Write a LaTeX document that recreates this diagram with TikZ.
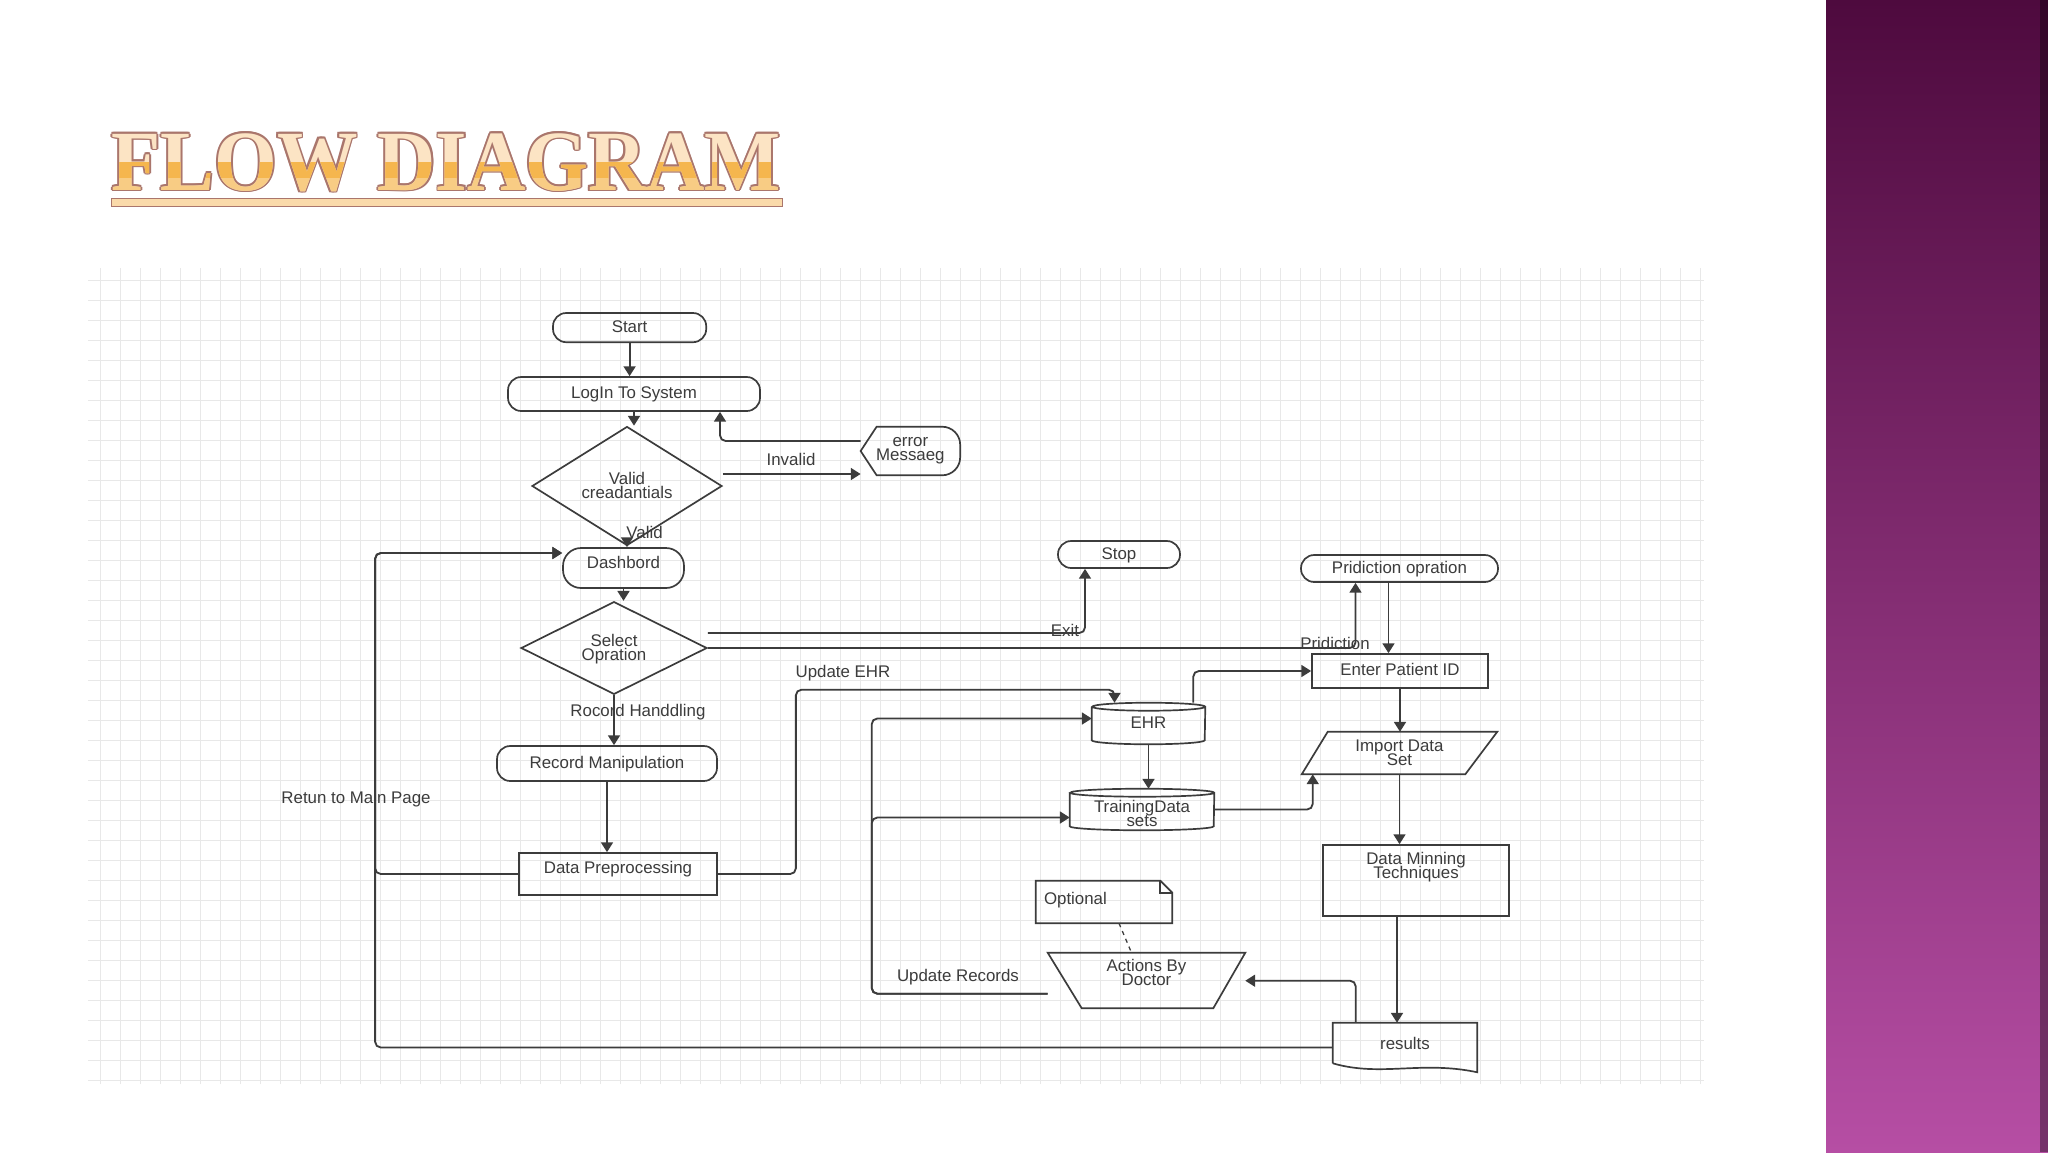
\documentclass[tikz,border=0pt]{standalone}
\usepackage{fontspec}
\setmainfont{Liberation Sans}
\newfontfamily\titlefont{Liberation Serif}
\usepackage{tikz}
\usetikzlibrary{shapes.geometric,calc,arrows.meta}

\definecolor{ink}{RGB}{60,60,60}
\definecolor{gridline}{RGB}{232,232,232}
\definecolor{plumtop}{RGB}{78,10,62}
\definecolor{plummid}{RGB}{132,50,112}
\definecolor{plumbot}{RGB}{182,78,164}
\definecolor{peach}{RGB}{252,228,196}
\definecolor{amber}{RGB}{245,182,78}
\definecolor{amberlt}{RGB}{248,204,132}
\definecolor{rim}{RGB}{170,118,108}

\newcommand{\diagfont}{\fontsize{12}{10}\selectfont\lineskiplimit=-20pt\relax}
\newcommand{\twol}[2]{\vtop{\halign{\hfil##\hfil\cr#1\cr#2\cr}}}

\tikzset{
  txt/.style={font=\diagfont, text=ink, inner sep=0pt},
  bare/.style={txt, text height=0.3cm, text depth=0.075cm},
  box/.style={bare, draw=ink, line width=1.2pt},
  pill/.style={box, rounded corners=0.33cm},
  choice/.style={box, diamond, text depth=0.4cm},
  lbl/.style={bare},
  outline/.style={draw=ink, line width=1.2pt},
  arr/.style={->, draw=ink, line width=1.3pt, rounded corners=4pt},
  ttl/.style={inner sep=0pt, anchor=base west, font=\titlefont\bfseries\fontsize{61}{61}\selectfont}
}

\begin{document}
\begin{tikzpicture}[>={Triangle[length=7pt,width=8.5pt]}]
  % page, grid paper and side band
  \fill[white] (0,0) rectangle (51.2,-28.8);
  \useasboundingbox (0,0) rectangle (51.2,-28.8);
  \draw[gridline, line width=0.5pt, step=0.5cm] (2.2,-6.7) grid (42.6,-27.1);
  \shade[top color=plumtop, middle color=plummid, bottom color=plumbot] (45.65,0) rectangle (51.2,-28.8);
  \fill[black, opacity=0.35] (51.0,0) rectangle (51.2,-28.8);

  % title
  \foreach \ang [count=\i] in {0,45,...,315}
    \node[ttl, text=rim] (rim\i) at ($(2.775,-4.75)+(\ang:0.045)$) {\scalebox{0.94}[1]{FLOW DIAGRAM}};
  \node[ttl, text=peach] (ttlfill) at (2.775,-4.75) {\scalebox{0.94}[1]{FLOW DIAGRAM}};
  \begin{scope}
    \clip (2,-4.05) rectangle (21,-4.45);
    \node[ttl, text=amber] (ttlband) at (2.775,-4.75) {\scalebox{0.94}[1]{FLOW DIAGRAM}};
  \end{scope}
  \begin{scope}
    \clip (2,-4.45) rectangle (21,-5.0);
    \node[ttl, text=amberlt] (ttllow) at (2.775,-4.75) {\scalebox{0.94}[1]{FLOW DIAGRAM}};
  \end{scope}
  \draw[rim, fill=peach!60!amberlt, line width=0.6pt] (2.775,-4.95) rectangle (19.55,-5.15);

  % login column
  \node[pill, minimum width=3.83cm, minimum height=0.73cm] (start) at (15.74,-8.19) {Start};
  \node[pill, minimum width=6.3cm, minimum height=0.85cm] (login) at (15.85,-9.85) {LogIn To System};
  \node[choice, minimum width=4.75cm, minimum height=1.85cm] (valid) at (15.675,-12.15) {\twol{Valid}{creadantials}};
  \node[bare, text depth=0.55cm, minimum width=2.475cm, minimum height=1.2cm] (err) at (22.76,-11.275) {\twol{error}{Messaeg}};
  \node[pill, rounded corners=0.45cm, text depth=0.3cm, minimum width=3.025cm, minimum height=1.0cm] (dash) at (15.5875,-14.2) {Dashbord};
  \node[choice, minimum width=4.65cm, minimum height=1.55cm] (sel) at (15.35,-16.2) {\twol{Select}{Opration}};
  \node[pill, minimum width=5.5cm, minimum height=0.875cm] (rec) at (15.175,-19.0875) {Record Manipulation};
  \node[box, text depth=0.35cm, minimum width=4.95cm, minimum height=1.05cm] (prep) at (15.45,-21.85) {Data Preprocessing};

  % records and prediction
  \node[pill, minimum width=3.05cm, minimum height=0.675cm] (stop) at (27.975,-13.8625) {Stop};
  \node[pill, minimum width=4.925cm, minimum height=0.675cm] (pred) at (34.9875,-14.2125) {Pridiction opration};
  \node[box, minimum width=4.4cm, minimum height=0.85cm] (pid) at (35.0,-16.775) {Enter Patient ID};
  \node[bare, minimum width=2.825cm, minimum height=1.025cm] (ehr) at (28.7125,-18.0875) {EHR};
  \node[bare, text depth=0.15cm, minimum width=3.6cm, minimum height=1.025cm] (train) at (28.55,-20.2375) {\twol{TrainingData}{sets}};
  \node[bare, text depth=0.4cm, minimum width=4.875cm, minimum height=1.05cm] (imp) at (34.9875,-18.825) {\twol{Import Data}{Set}};
  \node[box, text depth=1.1cm, minimum width=4.65cm, minimum height=1.775cm] (dm) at (35.4,-22.0125) {\twol{Data Minning}{Techniques}};
  \node[bare, text width=3cm, align=left, inner xsep=0.2cm, text depth=0.2cm, minimum height=1.05cm] (opt) at (27.6,-22.55) {Optional};
  \node[bare, text depth=0.75cm, minimum width=4.925cm, minimum height=1.375cm] (act) at (28.6625,-24.5125) {\twol{Actions By}{Doctor}};
  \node[bare, text depth=0.225cm, minimum width=3.6cm, minimum height=1.225cm] (res) at (35.125,-26.1875) {results};

  % drawn outlines
  \draw[outline] (err.west) -- ([xshift=0.4cm]err.north west) -- ([xshift=-0.45cm]err.north east) arc[start angle=90, end angle=0, radius=0.45cm] -- ([yshift=0.45cm]err.south east) arc[start angle=0, end angle=-90, radius=0.45cm] -- ([xshift=0.4cm]err.south west) -- cycle;
  \draw[outline] ([yshift=-0.1cm]ehr.north west) -- ([yshift=0.1cm]ehr.south west) arc[start angle=180, end angle=360, x radius=1.4125cm, y radius=0.1cm] -- ([yshift=-0.1cm]ehr.north east) arc[start angle=0, end angle=360, x radius=1.4125cm, y radius=0.1cm];
  \draw[outline] ([yshift=-0.1cm]train.north west) -- ([yshift=0.1cm]train.south west) arc[start angle=180, end angle=360, x radius=1.8cm, y radius=0.1cm] -- ([yshift=-0.1cm]train.north east) arc[start angle=0, end angle=360, x radius=1.8cm, y radius=0.1cm];
  \draw[outline] ([xshift=0.65cm]imp.north west) -- (imp.north east) -- ([xshift=-0.8cm]imp.south east) -- (imp.south west) -- cycle;
  \draw[outline] (act.north west) -- (act.north east) -- ([xshift=-0.8cm]act.south east) -- ([xshift=0.85cm]act.south west) -- cycle;
  \draw[outline] (opt.south west) -- (opt.north west) -- ([xshift=-0.3cm]opt.north east) -- ([yshift=-0.3cm]opt.north east) -- (opt.south east) -- cycle;
  \draw[outline] ([xshift=-0.3cm]opt.north east) |- ([yshift=-0.3cm]opt.north east);
  \draw[outline] ([yshift=0.225cm]res.south west) -- (res.north west) -- (res.north east) -- (res.south east) .. controls +(-1.4cm,0.3cm) and +(1.2cm,-0.35cm) .. ([yshift=0.225cm]res.south west);

  % connectors
  \draw[arr] (start.south) -- (start.south |- login.north);
  \draw[arr] (login.south) -- (login.south |- valid.north);
  \draw[arr] ([yshift=0.3cm]valid.east) -- ([yshift=0.3cm]valid.east -| err.west);
  \draw[arr] ([yshift=0.25cm]err.west) -| ([xshift=2.15cm]login.south);
  \draw[arr] (valid.south) -- (valid.south |- dash.north);
  \draw[arr] (dash.south) -- (dash.south |- sel.north);
  \draw[arr] (sel.south) -- (sel.south |- rec.north);
  \draw[arr] (rec.south) -- (rec.south |- prep.north);
  \draw[arr] (prep.west) -| ([xshift=-4.675cm,yshift=0.375cm]dash.west) -- ([yshift=0.375cm]dash.west);
  \draw[arr] (res.west) -| ([xshift=-4.675cm,yshift=0.375cm]dash.west) -- ([yshift=0.375cm]dash.west);
  \draw[arr] ([yshift=0.375cm]sel.east) -| ([xshift=-0.85cm]stop.south);
  \draw[arr] (sel.east) -| ([xshift=-1.1cm]pred.south);
  \draw[arr] ([xshift=-0.275cm]pred.south) -- ([xshift=-0.275cm]pred.south |- pid.north);
  \draw[arr] (prep.east) -- ++(1.95cm,0) |- ([xshift=-0.85cm,yshift=0.325cm]ehr.north) -- ([xshift=-0.85cm]ehr.north);
  \draw[arr] ([xshift=-0.3cm]ehr.north east) |- (pid.west);
  \draw[arr] (ehr.south) -- (ehr.south |- train.north);
  \draw[arr] (train.east) -| ([xshift=0.275cm]imp.south west);
  \draw[arr] (pid.south) -- (pid.south |- imp.north);
  \draw[arr] (imp.south) -- (imp.south |- dm.north);
  \draw[arr] ([xshift=-0.475cm]dm.south) -- ([xshift=-0.475cm]dm.south |- res.north);
  \draw[arr] ([xshift=0.575cm]res.north west) |- ([yshift=-0.7cm]act.north east);
  \coordinate (recEnd) at ([yshift=-1.025cm]act.north west);
  \draw[arr] (recEnd) -| ([xshift=-5.5cm,yshift=0.125cm]ehr.west) -- ([yshift=0.125cm]ehr.west);
  \draw[arr] (recEnd) -| ([xshift=-4.95cm,yshift=-0.2cm]train.west) -- ([yshift=-0.2cm]train.west);
  \draw[ink, dashed, line width=0.9pt] ([xshift=0.375cm]opt.south) -- ([xshift=-0.375cm]act.north);

  % connector labels
  \node[lbl] (lblInvalid) at (19.775,-11.525) {Invalid};
  \node[lbl] (lblValid) at (16.1125,-13.35) {Valid};
  \node[lbl] (lblRecord) at (15.95,-17.8) {Rocord Handdling};
  \node[lbl] (lblReturn) at (8.9,-19.975) {Retun to Main Page};
  \node[lbl] (lblUpdEhr) at (21.075,-16.825) {Update EHR};
  \node[lbl] (lblExit) at (26.625,-15.8) {Exit};
  \node[lbl] (lblPred) at (33.375,-16.125) {Pridiction};
  \node[lbl] (lblUpdRec) at (23.95,-24.425) {Update Records};
\end{tikzpicture}
\end{document}
